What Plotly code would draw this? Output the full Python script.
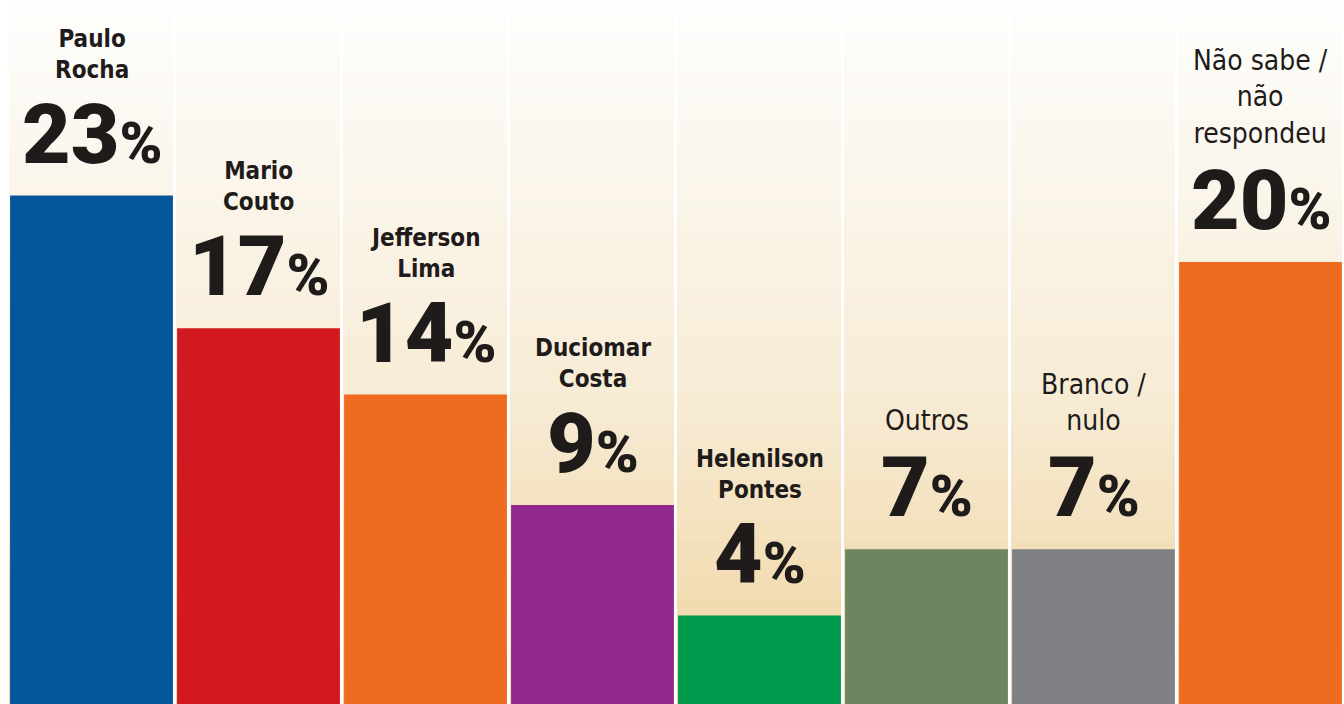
import numpy as np
import plotly.graph_objects as go

categories = ["Paulo<br>Rocha", "Mario<br>Couto", "Jefferson<br>Lima", "Duciomar<br>Costa",
              "Helenilson<br>Pontes", "Outros", "Branco /<br>nulo", "Não sabe /<br>não<br>respondeu"]
values = [23, 17, 14, 9, 4, 7, 7, 20]
bold_names = [True, True, True, True, True, False, False, False]
colors = ["#03569a", "#d2191f", "#f06b22", "#92288e", "#00984a", "#6e8562", "#7f8084", "#f06b22"]

Y_MAX = 31.85

fig = go.Figure()

# background gradient columns
levels = np.linspace(0, Y_MAX, 80)
z = np.tile(levels[:, None], (1, len(categories)))
fig.add_trace(go.Heatmap(
    x=list(range(len(categories))), y=levels, z=z,
    colorscale=[[0, "#efd4a2"], [0.15, "#f2dcb2"], [0.45, "#f7ecd6"], [0.75, "#fbf6ec"], [1, "#fefefd"]],
    showscale=False, xgap=3, hoverinfo="skip", zmin=0, zmax=Y_MAX,
))

fig.add_trace(go.Bar(
    x=list(range(len(categories))), y=values,
    marker=dict(color=colors, line=dict(width=0)),
    width=0.975, hoverinfo="skip",
))

for i, (name, v, b) in enumerate(zip(categories, values, bold_names)):
    fig.add_annotation(
        x=i, y=v, yanchor="bottom", xanchor="center", yshift=10, showarrow=False,
        text=f"{v}<span style='font-size:58px'>%</span>",
        font=dict(family="Roboto, Liberation Sans", size=84, color="#1e1b1a", weight=900),
    )
    fig.add_annotation(
        x=i, y=v, yanchor="bottom", xanchor="center", yshift=110, showarrow=False,
        text=name,
        font=dict(family="DejaVu Sans Condensed, Liberation Sans Narrow",
                  size=24 if b else 28, color="#1e1b1a", weight=700 if b else 400),
    )

fig.update_layout(
    width=1344, height=704,
    margin=dict(l=8, r=0, t=0, b=0),
    paper_bgcolor="white", plot_bgcolor="white",
    showlegend=False, bargap=0.02,
    xaxis=dict(range=[-0.5, 7.5], visible=False, fixedrange=True),
    yaxis=dict(range=[0, Y_MAX], visible=False, fixedrange=True),
)

fig.write_html("out.html", config={"displayModeBar": False, "staticPlot": True},
               post_script="document.body.style.margin='0';document.body.style.overflow='hidden';")
